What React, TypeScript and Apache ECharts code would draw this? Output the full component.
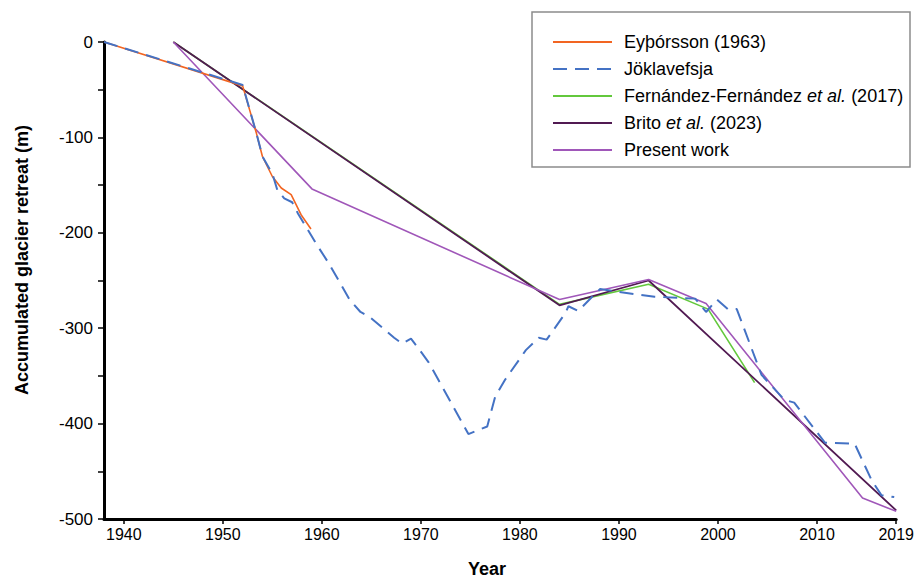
import React, { useEffect, useRef } from "react";
import * as echarts from "echarts";

const FONT = '"Liberation Sans", Arial, Helvetica, sans-serif';

// x tick positions (plot coordinates) and their printed labels
const xTickValues = [1940, 1950, 1960, 1970, 1980, 1990, 2000, 2010, 2018];
const xTickLabels = ["1940", "1950", "1960", "1970", "1980", "1990", "2000", "2010", "2019"];

const seriesNames = [
  "Eyþórsson (1963)",
  "Jöklavefsja",
  "Fernández-Fernández et al. (2017)",
  "Brito et al. (2023)",
  "Present work",
];

const eyporssonData = [
  [1938, 0], [1952, -46], [1953.4, -96], [1954, -120], [1955, -141],
  [1955.9, -153], [1956.9, -160], [1957.9, -181], [1958.9, -196],
];

const joklavefsjaData = [
  [1938, 0], [1952, -45], [1953.4, -96], [1954, -120], [1955, -138],
  [1955.5, -155], [1956.2, -164], [1957, -168], [1957.6, -180], [1959.4, -211],
  [1960.7, -232], [1962.8, -270], [1963.9, -283], [1964.8, -288], [1967.3, -310],
  [1968.1, -316], [1969, -311], [1969.6, -319], [1970.8, -336], [1974.8, -411],
  [1976.7, -403], [1977.5, -372], [1978.5, -354], [1980.6, -323], [1981.9, -310],
  [1982.7, -312], [1984.6, -284], [1984.9, -277], [1985.9, -282], [1987.3, -267],
  [1988.1, -259], [1990, -262], [1993.6, -267], [1997.7, -269], [1998.8, -283],
  [1999.9, -270], [2001, -280], [2001.9, -280], [2004.4, -349], [2006.7, -375],
  [2007.7, -378], [2010.8, -420], [2013.8, -421], [2015.5, -459], [2016.5, -475],
  [2017.8, -477],
];

const fernandezData = [
  [1945, 0], [1984, -275], [1993, -254], [1999, -280], [2003.7, -357],
];

const britoData = [
  [1945, 0], [1984, -276], [1993, -250], [2018, -491],
];

const presentData = [
  [1945, 0], [1959, -154], [1984, -270], [1993, -249], [1998.8, -274],
  [2014.6, -478], [2018, -492],
];

const colors = ["#f26522", "#4472c4", "#63c83c", "#511a52", "#a057b9"];

export default function App() {
  const ref = useRef<HTMLDivElement>(null);

  useEffect(() => {
    const chart = echarts.init(ref.current!, null, { renderer: "svg" });
    const dataSets = [eyporssonData, joklavefsjaData, fernandezData, britoData, presentData];
    const widths = [1.6, 2, 1.6, 1.8, 1.6];
    const zs = [5, 6, 2, 3, 4];

    chart.setOption({
      animation: false,
      backgroundColor: "#ffffff",
      grid: { left: 104, right: 20, top: 42, bottom: 59 },
      xAxis: {
        type: "value",
        min: 1938,
        max: 2018,
        splitLine: { show: false },
        axisLine: { show: true, onZero: false, lineStyle: { color: "#000", width: 3 } },
        axisTick: {
          show: true,
          customValues: xTickValues,
          length: 5,
          lineStyle: { color: "#000", width: 1.5 },
        },
        axisLabel: {
          customValues: xTickValues,
          margin: 7,
          fontSize: 16,
          fontFamily: FONT,
          color: "#000",
          formatter: (v: number) => {
            const i = xTickValues.indexOf(Math.round(v));
            return i >= 0 ? xTickLabels[i] : "";
          },
        },
      },
      yAxis: {
        type: "value",
        min: -500,
        max: 0,
        interval: 100,
        splitLine: { show: false },
        axisLine: { show: true, lineStyle: { color: "#000", width: 3 } },
        axisTick: { show: true, length: 6, lineStyle: { color: "#000", width: 1.5 } },
        minorTick: { show: true, splitNumber: 2, length: 6, lineStyle: { color: "#000", width: 1.5 } },
        axisLabel: { margin: 11, fontSize: 17, fontFamily: FONT, color: "#000" },
      },
      legend: {
        orient: "vertical",
        left: 552,
        top: 32,
        padding: 0,
        itemWidth: 59,
        itemHeight: 14,
        itemGap: 7,
        selectedMode: false,
        data: seriesNames,
        itemStyle: { opacity: 0 },
        formatter: (name: string) => name.replace("et al.", "{i|et al.}"),
        textStyle: {
          fontSize: 18,
          fontFamily: FONT,
          color: "#000",
          lineHeight: 20,
          padding: [0, 0, 0, 7],
          rich: {
            i: { fontSize: 18, fontFamily: FONT, color: "#000", fontStyle: "italic", lineHeight: 20 },
          },
        },
      },
      graphic: [
        {
          type: "rect",
          shape: { x: 532, y: 12, width: 378, height: 155 },
          style: { fill: "none", stroke: "#8c8c8c", lineWidth: 1.5 },
          silent: true,
          z: 1,
        },
        {
          type: "text",
          x: 22,
          y: 260,
          rotation: Math.PI / 2,
          style: {
            text: "Accumulated glacier retreat (m)",
            font: `bold 18px ${FONT}`,
            fill: "#000",
            align: "center",
            verticalAlign: "middle",
            textAlign: "center",
            textVerticalAlign: "middle",
          },
        },
        {
          type: "text",
          x: 487,
          y: 569,
          style: {
            text: "Year",
            font: `bold 18px ${FONT}`,
            fill: "#000",
            align: "center",
            verticalAlign: "middle",
            textAlign: "center",
            textVerticalAlign: "middle",
          },
        },
      ],
      series: seriesNames.map((name, i) => ({
        name,
        type: "line",
        data: dataSets[i],
        symbol: "none",
        showSymbol: false,
        z: zs[i],
        color: colors[i],
        lineStyle: {
          color: colors[i],
          width: widths[i],
          type: i === 1 ? [14, 8] : "solid",
        },
      })),
    });

    return () => chart.dispose();
  }, []);

  return (
    <div
      ref={ref}
      style={{ position: "absolute", left: 0, top: 0, width: 917, height: 578 }}
    />
  );
}
